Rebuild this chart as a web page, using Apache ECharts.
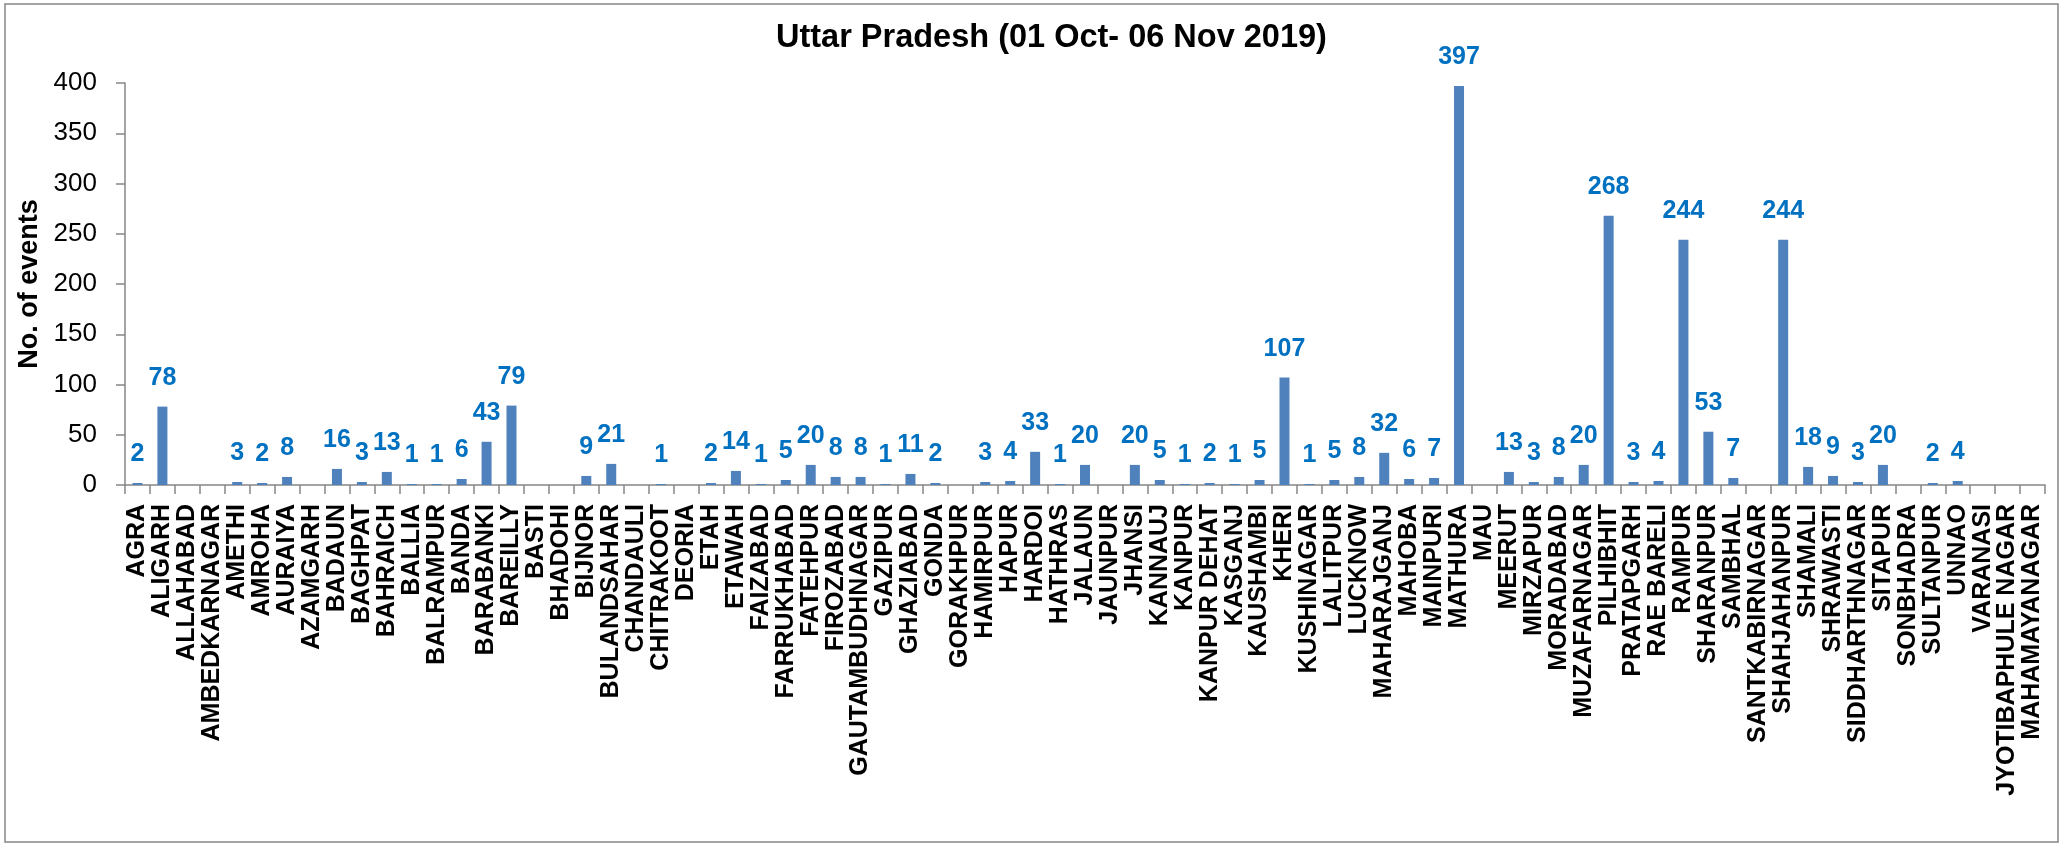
<!DOCTYPE html>
<html>
<head>
<meta charset="utf-8">
<script src="https://cdn.jsdelivr.net/npm/echarts@6/dist/echarts.min.js"></script>
<style>
  html, body { margin: 0; padding: 0; background: #ffffff; }
  #chart { width: 2065px; height: 847px; }
</style>
</head>
<body>
<div id="chart"></div>
<script>
const chartTitle = 'Uttar Pradesh (01 Oct- 06 Nov 2019)';
const yAxisTitle = 'No. of events';

const categories = [
  'AGRA', 'ALIGARH', 'ALLAHABAD', 'AMBEDKARNAGAR', 'AMETHI', 'AMROHA', 'AURAIYA',
  'AZAMGARH', 'BADAUN', 'BAGHPAT', 'BAHRAICH', 'BALLIA', 'BALRAMPUR', 'BANDA',
  'BARABANKI', 'BAREILLY', 'BASTI', 'BHADOHI', 'BIJNOR', 'BULANDSAHAR', 'CHANDAULI',
  'CHITRAKOOT', 'DEORIA', 'ETAH', 'ETAWAH', 'FAIZABAD', 'FARRUKHABAD', 'FATEHPUR',
  'FIROZABAD', 'GAUTAMBUDHNAGAR', 'GAZIPUR', 'GHAZIABAD', 'GONDA', 'GORAKHPUR',
  'HAMIRPUR', 'HAPUR', 'HARDOI', 'HATHRAS', 'JALAUN', 'JAUNPUR', 'JHANSI', 'KANNAUJ',
  'KANPUR', 'KANPUR DEHAT', 'KASGANJ', 'KAUSHAMBI', 'KHERI', 'KUSHINAGAR', 'LALITPUR',
  'LUCKNOW', 'MAHARAJGANJ', 'MAHOBA', 'MAINPURI', 'MATHURA', 'MAU', 'MEERUT',
  'MIRZAPUR', 'MORADABAD', 'MUZAFARNAGAR', 'PILHIBHIT', 'PRATAPGARH', 'RAE BARELI',
  'RAMPUR', 'SHARANPUR', 'SAMBHAL', 'SANTKABIRNAGAR', 'SHAHJAHANPUR', 'SHAMALI',
  'SHRAWASTI', 'SIDDHARTHNAGAR', 'SITAPUR', 'SONBHADRA', 'SULTANPUR', 'UNNAO',
  'VARANASI', 'JYOTIBAPHULE NAGAR', 'MAHAMAYANAGAR'
];

const events = [
  2, 78, 0, 0, 3, 2, 8,
  0, 16, 3, 13, 1, 1, 6,
  43, 79, 0, 0, 9, 21, 0,
  1, 0, 2, 14, 1, 5, 20,
  8, 8, 1, 11, 2, 0,
  3, 4, 33, 1, 20, 0, 20, 5,
  1, 2, 1, 5, 107, 1, 5,
  8, 32, 6, 7, 397, 0, 13,
  3, 8, 20, 268, 3, 4,
  244, 53, 7, 0, 244, 18,
  9, 3, 20, 0, 2, 4,
  0, 0, 0
];

const yMin = 0;
const yMax = 400;
const yStep = 50;

const FONT = '"Liberation Sans", Arial, sans-serif';
const AXIS_GRAY = '#868686';

const chart = echarts.init(document.getElementById('chart'), null, { renderer: 'canvas' });

chart.setOption({
  backgroundColor: '#ffffff',
  animation: false,
  title: {
    text: chartTitle,
    left: 771,
    top: 17,
    textStyle: { fontFamily: FONT, fontSize: 32.5, fontWeight: 'bold', color: '#000000' }
  },
  graphic: [{
    type: 'rect',
    shape: { x: 5, y: 4, width: 2053, height: 838 },
    style: { fill: 'none', stroke: AXIS_GRAY, lineWidth: 1.5 },
    silent: true
  }],
  grid: { left: 125, right: 20, top: 83, bottom: 362, containLabel: false },
  xAxis: {
    type: 'category',
    data: categories,
    boundaryGap: true,
    axisLine: { show: true, lineStyle: { color: AXIS_GRAY, width: 1.5 } },
    axisTick: { show: true, interval: 0, length: 9, inside: false, lineStyle: { color: AXIS_GRAY, width: 1.5 } },
    axisLabel: {
      interval: 0,
      rotate: 90,
      margin: 19,
      fontFamily: FONT,
      fontSize: 25,
      fontWeight: 'bold',
      color: '#000000'
    },
    splitLine: { show: false }
  },
  yAxis: {
    type: 'value',
    min: yMin,
    max: yMax,
    interval: yStep,
    name: yAxisTitle,
    nameLocation: 'middle',
    nameRotate: 90,
    nameGap: 80,
    nameTextStyle: { fontFamily: FONT, fontSize: 27, fontWeight: 'bold', color: '#000000' },
    axisLine: { show: true, lineStyle: { color: AXIS_GRAY, width: 1.5 } },
    axisTick: { show: true, length: 9, inside: false, lineStyle: { color: AXIS_GRAY, width: 1.5 } },
    axisLabel: { margin: 28, fontFamily: FONT, fontSize: 26, color: '#000000' },
    splitLine: { show: false }
  },
  series: [{
    type: 'bar',
    data: events,
    barWidth: 10,
    itemStyle: { color: '#4F81BD' },
    label: {
      show: true,
      position: 'top',
      distance: 16,
      fontFamily: FONT,
      fontSize: 25,
      fontWeight: 'bold',
      color: '#0070C0',
      formatter: p => (p.value === 0 ? '' : String(p.value))
    }
  }]
});
</script>
</body>
</html>
